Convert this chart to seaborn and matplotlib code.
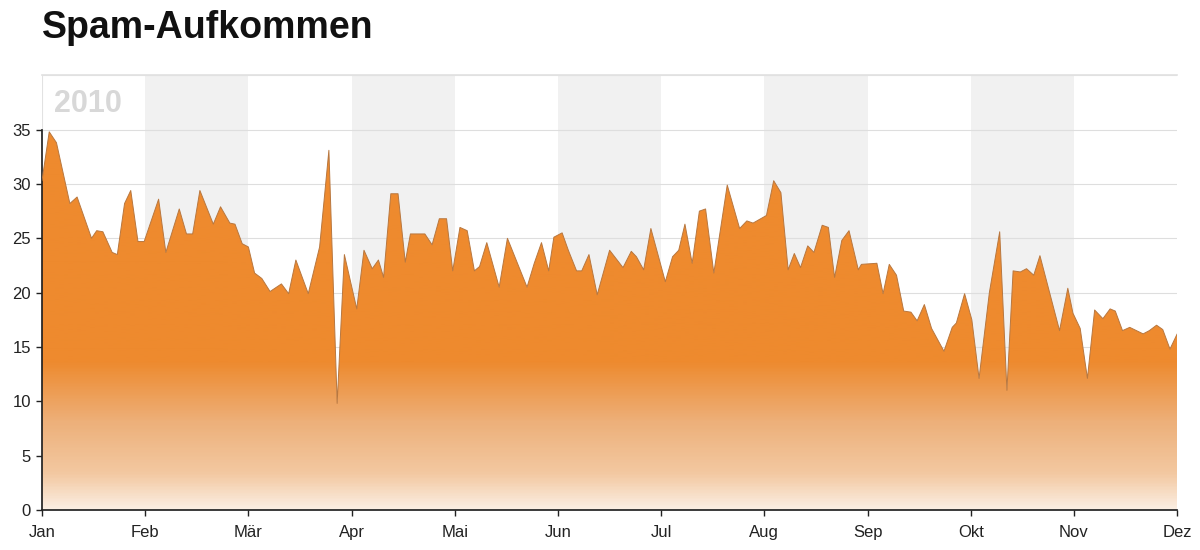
import numpy as np
import matplotlib
matplotlib.use("Agg")
import matplotlib.pyplot as plt
from matplotlib.colors import LinearSegmentedColormap
import seaborn as sns

# x = position in months (0 = 1 Jan, 11 = 1 Dez), y = spam share in %
month_pos = [
    0.00, 0.07, 0.14, 0.27, 0.34, 0.48, 0.53, 0.59, 0.68, 0.73, 0.80, 0.86, 0.93, 0.99,
    1.13, 1.20, 1.33, 1.40, 1.46, 1.53, 1.66, 1.73, 1.82, 1.87, 1.94, 2.00,
    2.06, 2.13, 2.21, 2.32, 2.39, 2.46, 2.58, 2.69, 2.78, 2.86, 2.93,
    3.05, 3.12, 3.20, 3.26, 3.31, 3.38, 3.45, 3.52, 3.57, 3.71, 3.78, 3.85, 3.92, 3.98,
    4.05, 4.12, 4.19, 4.24, 4.31, 4.43, 4.51, 4.70, 4.77, 4.84, 4.91, 4.96,
    5.04, 5.10, 5.18, 5.23, 5.30, 5.38, 5.50, 5.63, 5.71, 5.76, 5.83, 5.90,
    6.04, 6.11, 6.17, 6.23, 6.30, 6.37, 6.43, 6.51, 6.64, 6.76, 6.83, 6.89,
    7.02, 7.09, 7.16, 7.23, 7.29, 7.35, 7.42, 7.48, 7.56, 7.62, 7.68, 7.75, 7.82, 7.91, 7.94,
    8.09, 8.15, 8.21, 8.28, 8.35, 8.42, 8.48, 8.55, 8.62, 8.74, 8.82, 8.86, 8.94,
    9.01, 9.08, 9.18, 9.28, 9.35, 9.41, 9.48, 9.54, 9.61, 9.67, 9.86, 9.94, 9.99,
    10.06, 10.13, 10.20, 10.28, 10.35, 10.40, 10.47, 10.54, 10.67, 10.73, 10.80, 10.86, 10.93, 11.00,
]
spam = [
    30.3, 34.8, 33.8, 28.2, 28.8, 25.0, 25.7, 25.6, 23.7, 23.5, 28.2, 29.4, 24.7, 24.7,
    28.6, 23.7, 27.7, 25.4, 25.4, 29.4, 26.3, 27.9, 26.4, 26.3, 24.5, 24.2,
    21.8, 21.3, 20.1, 20.8, 19.9, 23.0, 19.9, 24.2, 33.1, 9.8, 23.5,
    18.5, 23.9, 22.2, 23.0, 21.4, 29.1, 29.1, 22.8, 25.4, 25.4, 24.4, 26.8, 26.8, 22.0,
    26.0, 25.7, 22.0, 22.4, 24.6, 20.5, 25.0, 20.5, 22.7, 24.6, 22.0, 25.1,
    25.5, 23.9, 22.0, 22.0, 23.5, 19.8, 23.9, 22.3, 23.8, 23.3, 22.1, 25.9,
    21.0, 23.3, 23.9, 26.3, 22.7, 27.5, 27.7, 21.8, 29.9, 25.9, 26.6, 26.4,
    27.1, 30.3, 29.2, 22.1, 23.6, 22.3, 24.3, 23.7, 26.2, 26.0, 21.4, 24.8, 25.7, 22.1, 22.6,
    22.7, 19.9, 22.6, 21.6, 18.3, 18.2, 17.4, 18.9, 16.7, 14.6, 16.8, 17.2, 19.9,
    17.5, 12.1, 20.0, 25.6, 11.0, 22.0, 21.9, 22.2, 21.6, 23.4, 16.5, 20.4, 18.1,
    16.7, 12.1, 18.4, 17.6, 18.5, 18.3, 16.5, 16.8, 16.2, 16.5, 17.0, 16.6, 14.8, 16.2,
]
month_labels = ["Jan", "Feb", "Mär", "Apr", "Mai", "Jun", "Jul", "Aug", "Sep", "Okt", "Nov", "Dez"]
y_ticks = [0, 5, 10, 15, 20, 25, 30, 35]

sns.set_theme(style="white")
plt.rcParams["font.family"] = ["Liberation Sans", "DejaVu Sans"]

orange = "#ee8a2e"
fig = plt.figure(figsize=(12, 5.5), dpi=100)
ax = fig.add_axes([0.035, 0.073, 0.946, 0.79])

# alternating month bands
for i in range(1, 11, 2):
    ax.axvspan(i, i + 1, color="#f1f1f1", lw=0, zorder=0)
for t in y_ticks[1:] + [40]:
    ax.axhline(t, color="#dedede", lw=0.8, zorder=1)

# area with vertical gradient, clipped to the fill polygon
poly = ax.fill_between(month_pos, spam, 0, color="none", lw=0, zorder=2)
cmap = LinearSegmentedColormap.from_list(
    "spam", [(0.0, "#fbeee2"), (0.08, "#f3c9a2"), (0.2, "#edb07a"), (0.34, orange), (1.0, orange)]
)
grad = np.linspace(0, 1, 400).reshape(-1, 1)
im = ax.imshow(grad, cmap=cmap, origin="lower", aspect="auto",
               extent=[0, 11, 0, 40], zorder=2)
im.set_clip_path(poly.get_paths()[0], transform=ax.transData)
sns.lineplot(x=month_pos, y=spam, ax=ax, color="#b8773f", lw=0.7, zorder=3)

ax.set_xlim(0, 11)
ax.set_ylim(0, 40)
ax.set_xticks(range(12))
ax.set_xticklabels(month_labels)
ax.set_yticks(y_ticks)
ax.tick_params(axis="both", labelsize=12, colors="#222222", length=4, width=1,
               direction="out")
ax.tick_params(axis="x", bottom=True, pad=7)
ax.tick_params(axis="y", left=True, pad=4)

ax.spines["right"].set_visible(False)
ax.spines["top"].set_color("#e2e2e2")
ax.spines["left"].set_color("#222222")
ax.spines["left"].set_bounds(0, 35)
ax.spines["bottom"].set_color("#222222")
ax.axvline(0, ymin=35 / 40, ymax=1, color="#e2e2e2", lw=0.8)

ax.text(0.12, 37.4, "2010", fontsize=22, fontweight="bold", color="#d8d8d8",
        va="center", ha="left", zorder=4)
fig.text(0.035, 0.931, "Spam-Aufkommen", fontsize=27, fontweight="bold",
         color="#111111", va="baseline", ha="left")

fig.savefig("out.png", dpi=100)
